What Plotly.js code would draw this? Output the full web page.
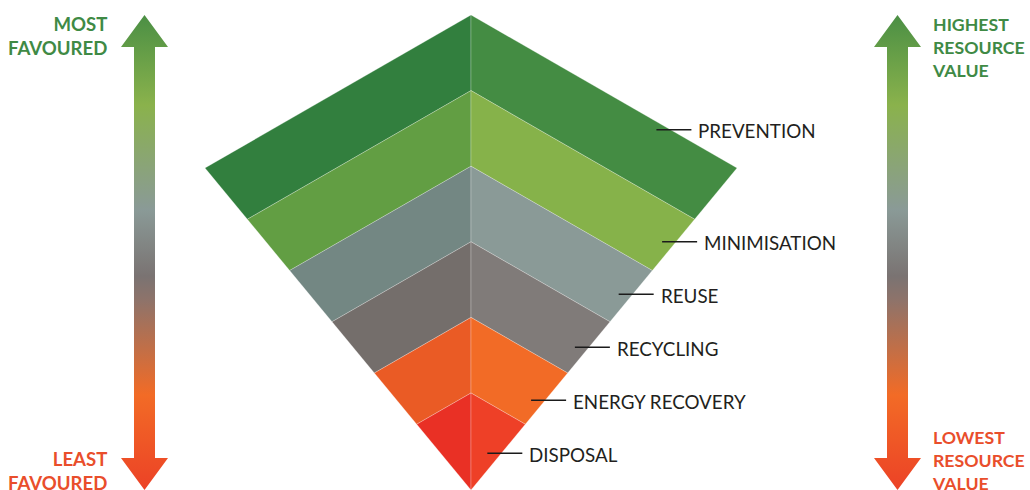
<!DOCTYPE html>
<html>
<head>
<meta charset="utf-8">
<script src="https://cdn.plot.ly/plotly-3.0.1.min.js"></script>
<style>html,body{margin:0;padding:0;background:#fff;}#chart{width:1030px;height:490px;}</style>
</head>
<body>
<div id="chart"></div>
<script>
// ---- DATA ----
const levels = ["PREVENTION", "MINIMISATION", "REUSE", "RECYCLING", "ENERGY RECOVERY", "DISPOSAL"];
const rank = [1, 2, 3, 4, 5, 6];
const leftScaleLabels = ["MOST<br>FAVOURED", "LEAST<br>FAVOURED"];
const rightScaleLabels = ["HIGHEST<br>RESOURCE<br>VALUE", "LOWEST<br>RESOURCE<br>VALUE"];

// ---- STYLE ----
const leftColors  = ["#327f3e", "#629e43", "#738783", "#746e6b", "#ea5b25", "#e93025"];
const rightColors = ["#448c43", "#86b24a", "#8a9a97", "#807b79", "#f26b26", "#ee4027"];
const arrowScale = [[0, "#4b8f44"], [0.19, "#8ab24c"], [0.41, "#8a9a97"], [0.55, "#7a7372"], [0.6, "#8e736a"], [0.8, "#f26b26"], [1, "#ec4226"]];
const topColor = "#3f8a45", bottomColor = "#e94e2b";

// ---- GEOMETRY (plot units = pixels) ----
const G = {cx: 471, topY: 15, wingHalf: 266, wingY: 168, bottomY: 490, bandDepth: 75.6};
const labelY = [129.7, 241.7, 294.3, 347.3, 400.3, 453.3];
const s = (G.wingY - G.topY) / G.wingHalf;      // upper edge slope
const t = (G.bottomY - G.wingY) / G.wingHalf;   // lower edge slope

const n = levels.length;
const yc = rank.map(r => G.topY + (r - 1) * G.bandDepth);
const edgeD = yc.map(y => (G.bottomY - y) / (s + t));

function halfBand(i, sign) {
  const xs = [], ys = [];
  if (i === 0) { xs.push(G.cx, G.cx + sign * G.wingHalf); ys.push(G.topY, G.wingY); }
  else { xs.push(G.cx, G.cx + sign * edgeD[i]); ys.push(yc[i], yc[i] + s * edgeD[i]); }
  if (i === n - 1) { xs.push(G.cx); ys.push(G.bottomY); }
  else { xs.push(G.cx + sign * edgeD[i + 1], G.cx); ys.push(yc[i + 1] + s * edgeD[i + 1], yc[i + 1]); }
  xs.push(xs[0]); ys.push(ys[0]);
  return {x: xs, y: ys};
}
function outerX(y) {
  if (y <= G.wingY) return G.cx + (y - G.topY) / s;
  return G.cx + (G.bottomY - y) / t;
}

const traces = [];
levels.forEach((lv, i) => {
  [[-1, leftColors[i]], [1, rightColors[i]]].forEach(([sg, col]) => {
    const p = halfBand(i, sg);
    traces.push({type: "scatter", mode: "lines", x: p.x, y: p.y, fill: "toself", fillcolor: col,
      line: {color: "rgba(255,255,255,0.35)", width: 0.7}, hoverinfo: "text", text: lv, showlegend: false});
  });
});

// leader lines + labels
const annotations = [];
levels.forEach((lv, i) => {
  const y = labelY[i];
  const x0 = outerX(y) - 14, x1 = x0 + 35;
  traces.push({type: "scatter", mode: "lines", x: [x0, x1], y: [y, y],
    line: {color: "#1b1b1b", width: 1.6}, hoverinfo: "skip", showlegend: false});
  annotations.push({x: x1 + 5, y: y + 1, xref: "x", yref: "y", text: lv, showarrow: false,
    xanchor: "left", yanchor: "middle", font: {family: "Lato", size: 18.8, color: "#231f20"}});
});

// double-headed gradient arrows
function arrow(cx) {
  const hw = 23.5, sw = 10.5, tip1 = 15, base1 = 47, base2 = 458, tip2 = 490;
  return {type: "scatter", mode: "lines", fill: "toself",
    x: [cx, cx + hw, cx + sw, cx + sw, cx + hw, cx, cx - hw, cx - sw, cx - sw, cx - hw, cx],
    y: [tip1, base1, base1, base2, base2, tip2, base2, base2, base1, base1, tip1],
    line: {width: 0, color: "rgba(0,0,0,0)"},
    fillgradient: {type: "vertical", colorscale: arrowScale, start: tip1, stop: tip2},
    hoverinfo: "skip", showlegend: false};
}
traces.push(arrow(144.5));
traces.push(arrow(897.5));

const boldFont = (c, sz) => ({family: "Lato", size: sz, color: c, weight: "bold"});
annotations.push({x: 108.5, y: 35.5, xref: "x", yref: "y", text: "<b>" + leftScaleLabels[0] + "</b>", showarrow: false,
  xanchor: "right", yanchor: "middle", align: "right", font: boldFont(topColor, 18.6)});
annotations.push({x: 108.5, y: 470.5, xref: "x", yref: "y", text: "<b>" + leftScaleLabels[1] + "</b>", showarrow: false,
  xanchor: "right", yanchor: "middle", align: "right", font: boldFont(bottomColor, 18.6)});
annotations.push({x: 929.5, y: 47, xref: "x", yref: "y", text: "<b>" + rightScaleLabels[0] + "</b>", showarrow: false,
  xanchor: "left", yanchor: "middle", align: "left", font: boldFont(topColor, 17.7)});
annotations.push({x: 929.5, y: 460, xref: "x", yref: "y", text: "<b>" + rightScaleLabels[1] + "</b>", showarrow: false,
  xanchor: "left", yanchor: "middle", align: "left", font: boldFont(bottomColor, 17.7)});

const layout = {
  width: 1030, height: 490,
  margin: {l: 0, r: 0, t: 0, b: 0, pad: 0},
  paper_bgcolor: "#ffffff", plot_bgcolor: "#ffffff",
  xaxis: {range: [0, 1030], visible: false, fixedrange: true},
  yaxis: {range: [490, 0], visible: false, fixedrange: true},
  annotations: annotations,
  showlegend: false
};
Plotly.newPlot("chart", traces, layout, {displayModeBar: false, staticPlot: true});
</script>
</body>
</html>
